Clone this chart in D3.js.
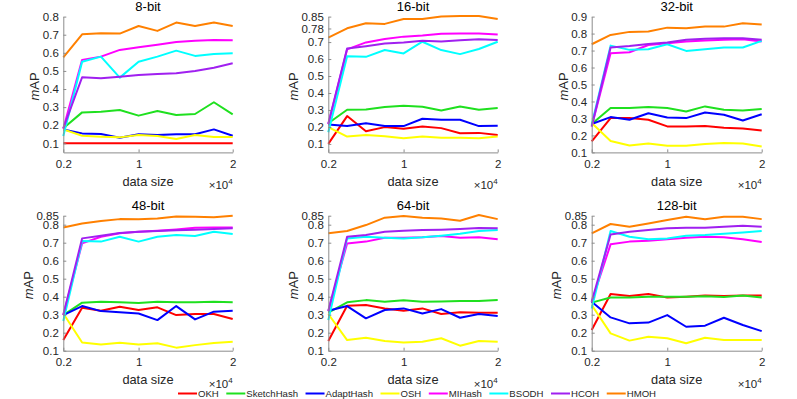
<!DOCTYPE html>
<html><head><meta charset="utf-8">
<script src="https://cdn.jsdelivr.net/npm/d3@7"></script>
<style>
body{margin:0;background:#fff;}
svg{display:block;font-family:"Liberation Sans",Arial,Helvetica,sans-serif;}
</style></head>
<body><svg id="c" width="797" height="399"></svg>
<script>
const dataSize = [0.2,0.4,0.6,0.8,1.0,1.2,1.4,1.6,1.8,2.0];
const xTicks = [0.2,1,2];
const titles = ["8-bit","16-bit","32-bit","48-bit","64-bit","128-bit"];
const yDomains = [[0.05,0.8],[0.05,0.85],[0.1,0.9],[0.1,0.85],[0.1,0.85],[0.1,0.85]];
const yTicks = [
  [0.1,0.2,0.3,0.4,0.5,0.6,0.7,0.8],
  [0.1,0.2,0.3,0.4,0.5,0.6,0.7,0.78,0.85],
  [0.1,0.2,0.3,0.4,0.5,0.6,0.7,0.8,0.9],
  [0.1,0.2,0.3,0.4,0.5,0.6,0.7,0.8,0.85],
  [0.1,0.2,0.3,0.4,0.5,0.6,0.7,0.8,0.85],
  [0.1,0.2,0.3,0.4,0.5,0.6,0.7,0.8,0.85]
];
const methods = ["OKH","SketchHash","AdaptHash","OSH","MIHash","BSODH","HCOH","HMOH"];
const colors = ["#ff0000","#1fe01f","#0000ff","#ffff00","#ff00ff","#00ffff","#a020f0","#ff8000"];

const okh = [
  [0.1,0.1,0.1,0.1,0.1,0.1,0.1,0.1,0.1,0.1],
  [0.1,0.264,0.175,0.199,0.189,0.203,0.193,0.163,0.165,0.153],
  [0.165,0.302,0.302,0.292,0.253,0.253,0.255,0.245,0.241,0.229],
  [0.159,0.339,0.322,0.344,0.326,0.341,0.298,0.304,0.304,0.276],
  [0.154,0.350,0.354,0.335,0.322,0.335,0.304,0.313,0.311,0.311],
  [0.215,0.415,0.404,0.415,0.396,0.400,0.406,0.404,0.406,0.406]
];
const sketchHash = [
  [0.183,0.271,0.275,0.284,0.253,0.279,0.257,0.262,0.327,0.260],
  [0.222,0.301,0.303,0.317,0.325,0.319,0.297,0.321,0.301,0.311],
  [0.267,0.361,0.361,0.367,0.361,0.341,0.371,0.351,0.347,0.355],
  [0.298,0.367,0.372,0.369,0.365,0.372,0.369,0.369,0.372,0.369],
  [0.311,0.369,0.381,0.372,0.380,0.372,0.374,0.376,0.376,0.381],
  [0.367,0.396,0.396,0.400,0.400,0.400,0.402,0.398,0.406,0.396]
];
const adaptHash = [
  [0.177,0.155,0.152,0.131,0.150,0.146,0.150,0.150,0.177,0.142],
  [0.214,0.205,0.222,0.205,0.205,0.248,0.242,0.242,0.205,0.207],
  [0.267,0.308,0.292,0.331,0.306,0.302,0.335,0.322,0.288,0.325],
  [0.298,0.348,0.320,0.313,0.307,0.270,0.348,0.274,0.317,0.322],
  [0.322,0.348,0.280,0.326,0.335,0.307,0.331,0.283,0.304,0.293],
  [0.372,0.285,0.252,0.256,0.298,0.233,0.239,0.283,0.243,0.209]
];
const osh = [
  [0.177,0.142,0.137,0.133,0.146,0.141,0.124,0.146,0.135,0.135],
  [0.199,0.143,0.153,0.145,0.134,0.143,0.137,0.136,0.134,0.143],
  [0.273,0.167,0.141,0.153,0.139,0.139,0.149,0.155,0.153,0.135],
  [0.307,0.146,0.135,0.144,0.135,0.141,0.117,0.131,0.143,0.150],
  [0.304,0.159,0.172,0.154,0.146,0.150,0.169,0.128,0.154,0.150],
  [0.354,0.196,0.156,0.178,0.169,0.141,0.172,0.159,0.159,0.159]
];
const miHash = [
  [0.180,0.561,0.579,0.616,0.631,0.645,0.660,0.667,0.671,0.669],
  [0.218,0.657,0.698,0.718,0.732,0.739,0.749,0.751,0.751,0.745],
  [0.253,0.684,0.690,0.733,0.743,0.753,0.759,0.763,0.767,0.753],
  [0.298,0.696,0.733,0.752,0.761,0.767,0.774,0.783,0.785,0.785],
  [0.320,0.696,0.706,0.728,0.728,0.730,0.737,0.728,0.730,0.719],
  [0.372,0.691,0.706,0.711,0.719,0.728,0.733,0.730,0.719,0.704]
];
const bsodh = [
  [0.140,0.551,0.579,0.463,0.551,0.579,0.612,0.583,0.594,0.597],
  [0.169,0.617,0.613,0.653,0.633,0.702,0.653,0.629,0.659,0.702],
  [0.263,0.729,0.704,0.708,0.737,0.698,0.708,0.718,0.718,0.757],
  [0.265,0.709,0.706,0.733,0.706,0.733,0.743,0.737,0.761,0.748],
  [0.270,0.724,0.733,0.728,0.724,0.730,0.739,0.750,0.765,0.770],
  [0.335,0.765,0.733,0.719,0.724,0.739,0.743,0.750,0.757,0.765]
];
const hcoh = [
  [0.183,0.465,0.459,0.468,0.478,0.483,0.487,0.500,0.518,0.542],
  [0.218,0.662,0.676,0.692,0.698,0.708,0.704,0.710,0.716,0.712],
  [0.253,0.718,0.727,0.739,0.747,0.763,0.769,0.773,0.773,0.763],
  [0.298,0.724,0.739,0.754,0.761,0.765,0.769,0.772,0.776,0.780],
  [0.320,0.733,0.743,0.761,0.767,0.770,0.772,0.776,0.781,0.780],
  [0.372,0.746,0.761,0.770,0.780,0.783,0.783,0.789,0.794,0.789]
];
const hmoh = [
  [0.575,0.702,0.708,0.706,0.748,0.721,0.767,0.748,0.767,0.748],
  [0.726,0.781,0.811,0.807,0.836,0.836,0.850,0.854,0.854,0.836],
  [0.737,0.792,0.810,0.812,0.835,0.831,0.841,0.841,0.861,0.853],
  [0.785,0.807,0.820,0.831,0.830,0.835,0.846,0.844,0.841,0.850],
  [0.752,0.765,0.798,0.839,0.848,0.839,0.835,0.822,0.854,0.831],
  [0.752,0.804,0.789,0.807,0.826,0.844,0.830,0.844,0.844,0.831]
];
const seriesData = [okh, sketchHash, adaptHash, osh, miHash, bsodh, hcoh, hmoh];

const svg = d3.select("#c");
const colLeft = [63.3, 328.3, 591.7];
const colRight = [232.7, 497.7, 761.7];
const rowTop = [16.6, 215.7];
const rowBottom = [152.4, 350.7];
const axisColor = "#8c8c8c", textColor = "#262626";

titles.forEach((title, p) => {
  const r = Math.floor(p / 3), c = p % 3;
  const x = d3.scaleLinear().domain([0.2, 2]).range([colLeft[c], colRight[c]]);
  const y = d3.scaleLinear().domain(yDomains[p]).range([rowBottom[r], rowTop[r]]);
  const g = svg.append("g");

  // lines
  const line = d3.line().x((d, i) => x(dataSize[i])).y(d => y(d));
  seriesData.forEach((s, k) => {
    g.append("path").attr("d", line(s[p])).attr("fill", "none")
      .attr("stroke", colors[k]).attr("stroke-width", 2).attr("stroke-linejoin", "round");
  });

  // axes
  const xa = d3.axisBottom(x).tickValues(xTicks).tickSizeInner(-3).tickSizeOuter(0).tickPadding(8)
    .tickFormat(d => d3.format("")(+d.toFixed(2)));
  const gx = g.append("g").attr("transform", `translate(0,${rowBottom[r]})`).call(xa);
  const ya = d3.axisLeft(y).tickValues(yTicks[p]).tickSizeInner(-3).tickSizeOuter(0).tickPadding(4.5)
    .tickFormat(d => String(+d.toFixed(2)));
  const gy = g.append("g").attr("transform", `translate(${colLeft[c]},0)`).call(ya);
  [gx, gy].forEach(a => {
    a.select(".domain").attr("stroke", axisColor).attr("stroke-width", 1);
    a.selectAll(".tick line").attr("stroke", axisColor);
    a.selectAll(".tick text").attr("fill", textColor).attr("font-size", 11.5)
      .attr("font-family", '"Liberation Sans",Arial,sans-serif');
  });
  gx.selectAll(".tick text").attr("dy", "0.71em").attr("y", 7);
  let maxW = 0;
  gy.selectAll(".tick text").each(function(){ maxW = Math.max(maxW, this.getComputedTextLength()); });

  // title
  g.append("text").attr("x", (colLeft[c] + colRight[c]) / 2).attr("y", rowTop[r] - 5.5)
    .attr("text-anchor", "middle").attr("font-size", 13).attr("fill", "#000").text(title);
  // x label
  g.append("text").attr("x", (colLeft[c] + colRight[c]) / 2).attr("y", rowBottom[r] + 33.5)
    .attr("text-anchor", "middle").attr("font-size", 12.8).attr("fill", textColor).text("data size");
  // exponent
  const ex = g.append("text").attr("x", colRight[c]).attr("y", rowBottom[r] + 37)
    .attr("text-anchor", "end").attr("font-size", 11.5).attr("fill", textColor);
  ex.append("tspan").text("×10");
  ex.append("tspan").attr("font-size", 8).attr("dy", -5).text("4");
  // y label
  const yl = g.append("text")
    .attr("transform", `translate(${colLeft[c] - 4.5 - maxW - 3.5},${(rowTop[r] + rowBottom[r]) / 2 + 2}) rotate(-90)`)
    .attr("text-anchor", "middle").attr("font-size", 13).attr("fill", textColor);
  yl.append("tspan").attr("font-style", "italic").text("m");
  yl.append("tspan").text("AP");
});

// legend
const leg = svg.append("g");
let lx = 178;
const ly = 393.5;
methods.forEach((m, k) => {
  leg.append("line").attr("x1", lx).attr("x2", lx + 19).attr("y1", ly).attr("y2", ly)
    .attr("stroke", colors[k]).attr("stroke-width", 2);
  const t = leg.append("text").attr("x", lx + 20).attr("y", ly + 3.5).attr("font-size", 9.6)
    .attr("fill", textColor).text(m);
  lx += 20 + t.node().getComputedTextLength() + 7.5;
});
</script></body></html>
